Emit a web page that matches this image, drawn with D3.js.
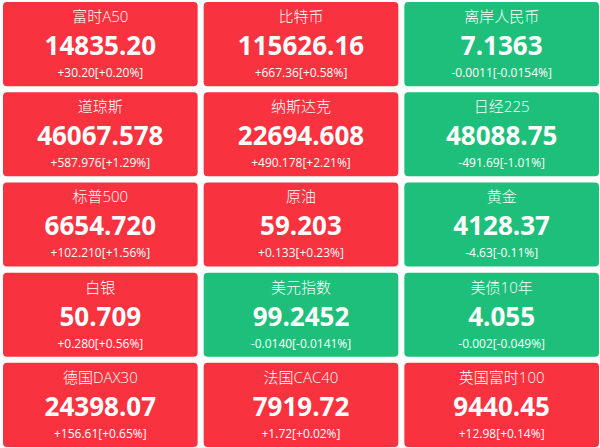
<!DOCTYPE html>
<html><head><meta charset="utf-8">
<script src="https://cdn.jsdelivr.net/npm/d3@7"></script>
<style>body{margin:0;background:#fff;}</style>
</head><body>
<svg id="chart"></svg>
<script>
const names = ["富时A50","比特币","离岸人民币","道琼斯","纳斯达克","日经225","标普500","原油","黄金","白银","美元指数","美债10年","德国DAX30","法国CAC40","英国富时100"];
const prices = ["14835.20","115626.16","7.1363","46067.578","22694.608","48088.75","6654.720","59.203","4128.37","50.709","99.2452","4.055","24398.07","7919.72","9440.45"];
const changes = ["+30.20","+667.36","-0.0011","+587.976","+490.178","-491.69","+102.210","+0.133","-4.63","+0.280","-0.0140","-0.002","+156.61","+1.72","+12.98"];
const pcts = ["+0.20%","+0.58%","-0.0154%","+1.29%","+2.21%","-1.01%","+1.56%","+0.23%","-0.11%","+0.56%","-0.0141%","-0.049%","+0.65%","+0.02%","+0.14%"];

const data = names.map((n, i) => ({name: n, price: prices[i], chg: changes[i], pct: pcts[i], i}));
const svg = d3.select("#chart").attr("width", 600).attr("height", 448);

const x = d3.scaleBand().domain([0,1,2]).range([3, 599]).paddingInner(0.03);
const y = d3.scaleBand().domain([0,1,2,3,4]).range([2, 447]).paddingInner(0.067);

const g = svg.selectAll("g.card").data(data).enter().append("g")
  .attr("transform", d => `translate(${x(d.i % 3)},${y(Math.floor(d.i / 3))})`);
const w = x.bandwidth(), h = y.bandwidth();
const cjk = "'Open Sans','Noto Sans CJK SC',sans-serif";

g.append("rect").attr("width", w).attr("height", h).attr("rx", 4)
  .attr("fill", d => d.chg.startsWith("-") ? "#1dbf7b" : "#f8323f");
g.append("text").attr("x", w/2).attr("y", 20).attr("text-anchor","middle")
  .attr("fill","#fff").attr("font-family",cjk).attr("font-weight",300).attr("font-size",15).text(d => d.name);
g.append("text").attr("x", w/2).attr("y", 53).attr("text-anchor","middle")
  .attr("fill","#fff").attr("font-family","'Open Sans',sans-serif").attr("font-weight","bold").attr("font-size",26).text(d => d.price);
g.append("text").attr("x", w/2).attr("y", 75).attr("text-anchor","middle")
  .attr("fill","#fff").attr("font-family","'Open Sans',sans-serif").attr("font-size",12).text(d => `${d.chg}[${d.pct}]`);
</script>
</body></html>
